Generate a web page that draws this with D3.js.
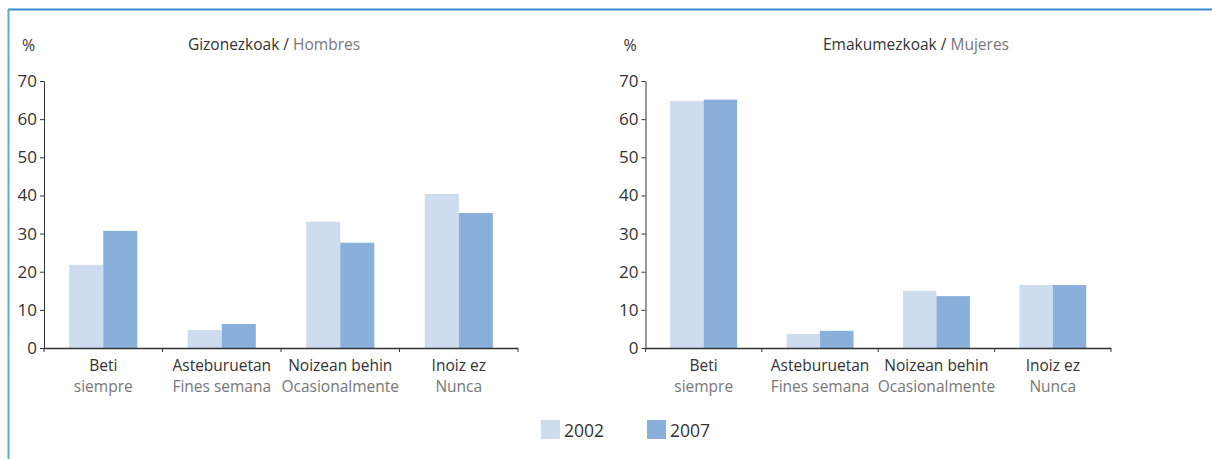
<!DOCTYPE html>
<html>
<head>
<meta charset="utf-8">
<script src="https://cdn.jsdelivr.net/npm/d3@7"></script>
<style>
  body { margin: 0; background: #fff; }
  svg { display: block; font-family: "Open Sans", sans-serif; }
</style>
</head>
<body>
<svg id="chart"></svg>
<script>
// data
const categories = ["Beti", "Asteburuetan", "Noizean behin", "Inoiz ez"];
const categoriesEs = ["siempre", "Fines semana", "Ocasionalmente", "Nunca"];
const years = ["2002", "2007"];
const hombres2002 = [21.8, 4.7, 33.1, 40.4];
const hombres2007 = [30.7, 6.3, 27.6, 35.4];
const mujeres2002 = [64.8, 3.7, 15.0, 16.5];
const mujeres2007 = [65.1, 4.5, 13.6, 16.5];
const yTicks = [0, 10, 20, 30, 40, 50, 60, 70];

const W = 1212, H = 459;
const svg = d3.select("#chart").attr("width", W).attr("height", H);

const colors = d3.scaleOrdinal().domain(years).range(["#cddcee", "#8aafdb"]);

// marco azul
svg.append("line").attr("x1", 8).attr("x2", W).attr("y1", 9.5).attr("y2", 9.5)
  .attr("stroke", "#3a8bcf").attr("stroke-width", 2);
svg.append("line").attr("x1", 8.5).attr("x2", 8.5).attr("y1", 9).attr("y2", H)
  .attr("stroke", "#5eaad9").attr("stroke-width", 2);

const panels = [
  { left: 44, right: 518, cx: 274, eu: "Gizonezkoak", es: "Hombres", a: hombres2002, b: hombres2007 },
  { left: 645.5, right: 1111, cx: 916, eu: "Emakumezkoak", es: "Mujeres", a: mujeres2002, b: mujeres2007 }
];

const yTop = 81, yBot = 348;

panels.forEach(p => {
  const g = svg.append("g");

  const y = d3.scaleLinear().domain([0, 70]).range([yBot, yTop]);
  const x0 = d3.scaleBand().domain(categories).range([p.left, p.right]).padding(0);
  const x1 = d3.scaleBand().domain(years).range([0, x0.bandwidth()]).paddingInner(0).paddingOuter(0.74);

  // title
  const t = g.append("text").attr("x", p.cx).attr("y", 50)
    .attr("text-anchor", "middle").style("font-size", "15.5px");
  t.append("tspan").attr("fill", "#333").text(p.eu + " / ");
  t.append("tspan").attr("fill", "#777").text(p.es);

  g.append("text").attr("x", p.left - 22).attr("y", 51)
    .style("font-size", "16px").attr("fill", "#333").text("%");

  // bars
  const rows = categories.map((c, i) => ({ c, vals: [p.a[i], p.b[i]] }));
  const grp = g.selectAll("g.cat").data(rows).enter().append("g")
    .attr("transform", d => `translate(${x0(d.c)},0)`);
  grp.selectAll("rect").data(d => d.vals.map((v, j) => ({ year: years[j], v })))
    .enter().append("rect")
    .attr("x", d => x1(d.year))
    .attr("width", x1.bandwidth())
    .attr("y", d => y(d.v))
    .attr("height", d => y(0) - y(d.v))
    .attr("fill", d => colors(d.year));

  // y axis
  const yAxis = g.append("g").attr("transform", `translate(${p.left},0)`)
    .call(d3.axisLeft(y).tickValues(yTicks).tickSize(4).tickSizeOuter(0).tickPadding(3));
  yAxis.select(".domain").attr("stroke", "#333");
  yAxis.selectAll(".tick line").attr("stroke", "#333");
  yAxis.selectAll(".tick text").attr("fill", "#333")
    .style("font-size", "17px").style("font-family", "Open Sans, sans-serif");

  // x axis
  g.append("line").attr("x1", p.left).attr("x2", p.right).attr("y1", yBot + 0.5).attr("y2", yBot + 0.5)
    .attr("stroke", "#333").attr("stroke-width", 1.3);
  const bounds = categories.map(c => x0(c)).concat([p.right]);
  g.selectAll("line.xt").data(bounds).enter().append("line")
    .attr("x1", d => d).attr("x2", d => d).attr("y1", yBot).attr("y2", yBot + 4)
    .attr("stroke", "#333");

  // category labels
  const lab = g.selectAll("text.cat").data(categories).enter().append("text")
    .attr("text-anchor", "middle")
    .attr("x", d => x0(d) + x0.bandwidth() / 2)
    .style("font-size", "15.5px");
  lab.append("tspan").attr("x", d => x0(d) + x0.bandwidth() / 2).attr("y", 371)
    .attr("fill", "#333").text(d => d);
  lab.append("tspan").attr("x", d => x0(d) + x0.bandwidth() / 2).attr("y", 392)
    .attr("fill", "#777").text((d, i) => categoriesEs[i]);
});

// legend
const legend = svg.append("g").selectAll("g").data(years).enter().append("g")
  .attr("transform", (d, i) => `translate(${541 + i * 106},420)`);
legend.append("rect").attr("width", 19).attr("height", 19).attr("fill", d => colors(d));
legend.append("text").attr("x", 23).attr("y", 17).attr("fill", "#333")
  .style("font-size", "17.5px").text(d => d);
</script>
</body>
</html>
